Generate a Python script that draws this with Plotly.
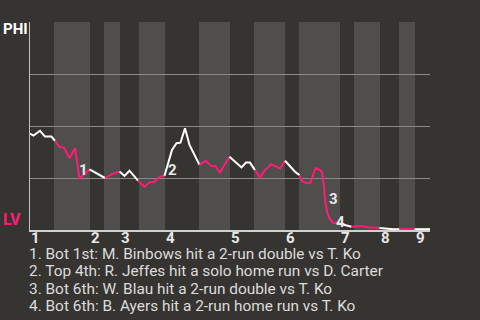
import plotly.graph_objects as go

# ---- data: win probability (PHI) by play, grouped by half inning ----
half_innings = ["T1", "B1", "T2", "B2", "T3", "B3", "T4", "B4", "T5", "B5",
                "T6", "B6", "T7", "B7", "T8", "B8", "T9"]
half_starts = [0, 4.8, 12, 14.8, 18, 21.8, 27, 33.8, 40, 44.8, 51, 53.8, 62, 64.8, 70, 73.8, 77]
game_end = 80

play_x = [
    [0, 0.7, 2, 3, 4.3, 5],
    [5.9, 6.8, 7.9, 9, 9.9, 10.9, 11.9],
    [12.8, 13.9, 15],
    [16.4, 17.9],
    [18.9, 19.9, 21.6],
    [22.9, 23.9, 24.9, 25.9, 26.9],
    [27.9, 28.4, 29.3, 30.1, 31, 31.9, 33.9],
    [35.1, 36.2, 37, 38, 39.9],
    [40.9, 42.3, 43.2, 44, 45],
    [46, 47, 48.2, 49.2, 50, 51],
    [52, 53, 53.9],
    [54.4, 55.3, 56.1, 56.6, 57.1, 57.7, 58.4, 58.8, 59.1, 59.5, 59.9, 60.6, 61.6],
    [62.9, 64.3],
    [65.3, 66.3, 67.6, 68.6, 69.9],
    [71.2, 72.6, 73.9],
    [75.4, 76.9],
    [78.4, 80],
]
play_wp = [
    [0.464, 0.454, 0.477, 0.449, 0.449, 0.429],
    [0.399, 0.396, 0.345, 0.393, 0.249, 0.267, 0.291],
    [0.279, 0.262, 0.25],
    [0.269, 0.281],
    [0.26, 0.285, 0.237],
    [0.208, 0.229, 0.232, 0.256, 0.261],
    [0.352, 0.385, 0.417, 0.42, 0.489, 0.409, 0.313],
    [0.333, 0.309, 0.308, 0.277, 0.352],
    [0.332, 0.301, 0.324, 0.324, 0.288],
    [0.253, 0.288, 0.316, 0.305, 0.296, 0.333],
    [0.304, 0.28, 0.264],
    [0.236, 0.225, 0.227, 0.264, 0.297, 0.292, 0.28, 0.208, 0.128, 0.08, 0.056, 0.035, 0.032],
    [0.024, 0.016],
    [0.016, 0.019, 0.013, 0.011, 0.01],
    [0.006, 0.004, 0.004],
    [0.004, 0.004],
    [0.004, 0.004],
]

inning_labels = ["1", "2", "3", "4", "5", "6", "7", "8", "9"]
inning_starts = [0, 12, 18, 27, 40, 51, 62, 70, 77]

event_ids = ["1", "2", "3", "4"]
event_x = [10.6, 28.4, 60.6, 62.0]
event_y = [0.288, 0.288, 0.149, 0.038]
event_text = [
    "1. Bot 1st: M. Binbows hit a 2-run double vs T. Ko",
    "2. Top 4th: R. Jeffes hit a solo home run vs D. Carter",
    "3. Bot 6th: W. Blau hit a 2-run double vs T. Ko",
    "4. Bot 6th: B. Ayers hit a 2-run home run vs T. Ko",
]

team_top = "PHI"
team_bottom = "LV"

# ---- style ----
BG = "#363430"
STRIPE = "#4f4e4c"
PINK = "#ff1c74"
WHITE = "#ffffff"
FONT = "Roboto"

fig = go.Figure()

shapes = []
for i, h in enumerate(half_innings):
    x0 = half_starts[i]
    x1 = half_starts[i + 1] if i + 1 < len(half_starts) else game_end
    if h.startswith("B"):
        shapes.append(dict(type="rect", xref="x", yref="paper", x0=x0, x1=x1, y0=0, y1=1,
                           fillcolor=STRIPE, line_width=0, layer="below"))

prev_x, prev_y = None, None
for i, h in enumerate(half_innings):
    xs = list(play_x[i])
    ys = list(play_wp[i])
    if prev_x is not None:
        xs = [prev_x] + xs
        ys = [prev_y] + ys
    fig.add_trace(go.Scatter(x=xs, y=ys, mode="lines",
                             line=dict(color=WHITE if h.startswith("T") else PINK, width=2),
                             hoverinfo="skip", showlegend=False))
    prev_x, prev_y = play_x[i][-1], play_wp[i][-1]

annotations = []
for lab, xs in zip(inning_labels, inning_starts):
    annotations.append(dict(x=xs, y=0, xref="x", yref="paper", text=f"<b>{lab}</b>",
                            showarrow=False, xanchor="left", yanchor="middle", xshift=-1, yshift=-7.5,
                            font=dict(family=FONT, size=15, color="#e8e8e8")))
for eid, ex, ey in zip(event_ids, event_x, event_y):
    annotations.append(dict(x=ex, y=ey, xref="x", yref="y", text=f"<b>{eid}</b>",
                            showarrow=False, xanchor="center", yanchor="middle",
                            font=dict(family=FONT, size=15, color="#e8e8e8")))
for k, t in enumerate(event_text):
    annotations.append(dict(x=0, y=0, xref="paper", yref="paper", text=t,
                            showarrow=False, xanchor="left", yanchor="middle",
                            xshift=-3, yshift=-(23.5 + 17.6 * k),
                            font=dict(family=FONT, size=15.4, color="#dcdcdc")))
annotations.append(dict(x=0, y=1, xref="paper", yref="paper", text=f"<b>{team_top}</b>",
                        showarrow=False, xanchor="right", yanchor="middle", xshift=0, yshift=-6.5,
                        font=dict(family=FONT, size=15, color=WHITE)))
annotations.append(dict(x=0, y=0, xref="paper", yref="paper", text=f"<b>{team_bottom}</b>",
                        showarrow=False, xanchor="right", yanchor="middle", xshift=-7, yshift=11,
                        font=dict(family=FONT, size=16, color=PINK)))

fig.update_layout(
    width=480, height=320,
    margin=dict(l=30, r=50, t=22, b=90),
    paper_bgcolor=BG, plot_bgcolor=BG,
    shapes=shapes, annotations=annotations,
    xaxis=dict(range=[0, game_end], showgrid=False, zeroline=False, showticklabels=False,
               showline=True, linecolor="#d0d0d0", linewidth=2, ticks=""),
    yaxis=dict(range=[0, 1], tickvals=[0.25, 0.5, 0.75, 1.0], showticklabels=False,
               showgrid=True, gridcolor="#8a8a88", gridwidth=1, zeroline=False,
               showline=True, linecolor="#c0c0c0", linewidth=1, ticks=""),
    showlegend=False,
)

fig.write_html("out.html")
